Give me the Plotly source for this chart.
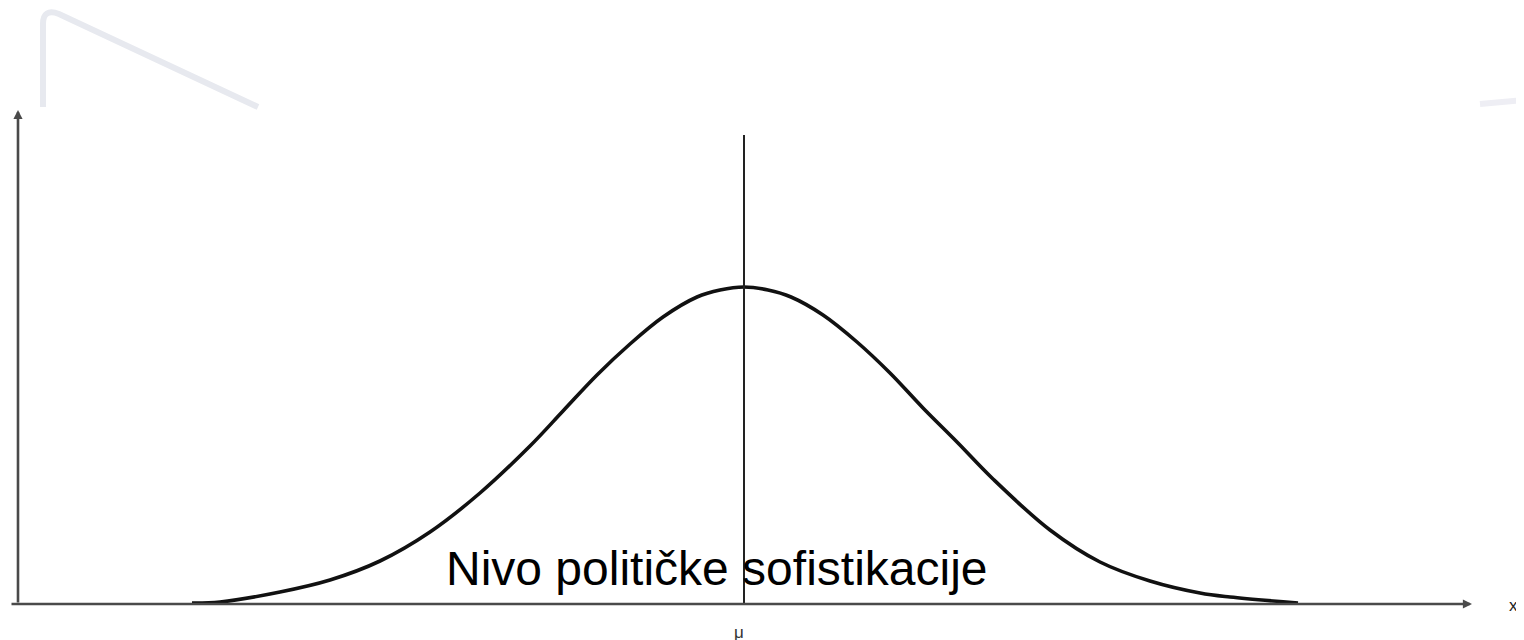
import plotly.graph_objects as go

# Normal distribution sketch: x measured from the vertical axis, y above the horizontal axis
krivulja_x = [174, 202, 262, 312, 362, 412, 462, 512, 545, 579, 612, 645, 679, 702,
              726, 750, 773, 805, 839, 872, 905, 939, 975, 1032, 1082, 1132, 1182, 1212, 1280]
krivulja_y = [1, 2, 12, 24, 43, 72, 111, 158, 193, 229, 260, 287, 307, 314,
              317, 314, 307, 289, 262, 231, 196, 162, 125, 74, 42, 23, 11, 7, 1]

MI = 726            # position of the mean
MI_VRH = 469        # top of the vertical line through the mean
Y_OS_VRH = 494
X_OS_KRAJ = 1454

NATPIS = "Nivo političke sofistikacije"
OZNAKA_MI = "μ"
OZNAKA_X = "x"

TINTA = "#111111"
OS = "#4a4a4a"
UKRAS = "#e7e9ef"

fig = go.Figure()
fig.add_trace(go.Scatter(x=krivulja_x, y=krivulja_y, mode="lines",
                         line=dict(color=TINTA, width=3.6, shape="spline", smoothing=1.0),
                         hoverinfo="skip", showlegend=False))
fig.add_trace(go.Scatter(x=[MI, MI], y=[0, MI_VRH], mode="lines",
                         line=dict(color="#222222", width=2),
                         hoverinfo="skip", showlegend=False))

# axes with arrow heads
fig.add_annotation(x=0, y=Y_OS_VRH, ax=0, ay=0, xref="x", yref="y", axref="x", ayref="y",
                   showarrow=True, arrowhead=2, arrowsize=0.7, arrowwidth=2.6,
                   arrowcolor=OS, text="")
fig.add_annotation(x=X_OS_KRAJ, y=0, ax=-8, ay=0, xref="x", yref="y", axref="x", ayref="y",
                   showarrow=True, arrowhead=2, arrowsize=0.7, arrowwidth=2.6,
                   arrowcolor=OS, text="")

fig.add_annotation(x=699, y=36, text=NATPIS, showarrow=False,
                   font=dict(family="Arial, Liberation Sans", size=48, color="black"))
fig.add_annotation(x=MI - 5, y=-28, text=OZNAKA_MI, showarrow=False,
                   font=dict(family="Arial, Liberation Sans", size=17, color="#333333"))
fig.add_annotation(x=1495, y=-1, text=OZNAKA_X, showarrow=False,
                   font=dict(family="Arial, Liberation Sans", size=17, color="#222222"))

# faint slide decoration at the top
fig.add_shape(type="path", xref="x", yref="y",
              path="M 25,497 L 25,580 Q 25,596 41,590 L 240,497",
              line=dict(color=UKRAS, width=6))
fig.add_shape(type="line", xref="x", yref="y", x0=1462, y0=500, x1=1506, y1=504,
              line=dict(color="#eeeef4", width=6))

# the page body adds an 8px margin, so the ranges are shifted to keep the sketch in place
fig.update_layout(
    width=1524, height=640,
    margin=dict(l=0, r=0, t=0, b=0),
    paper_bgcolor="white", plot_bgcolor="white",
    xaxis=dict(range=[-10, 1514], visible=False, fixedrange=True),
    yaxis=dict(range=[-44, 596], visible=False, fixedrange=True),
)

fig.write_html("out.html")
